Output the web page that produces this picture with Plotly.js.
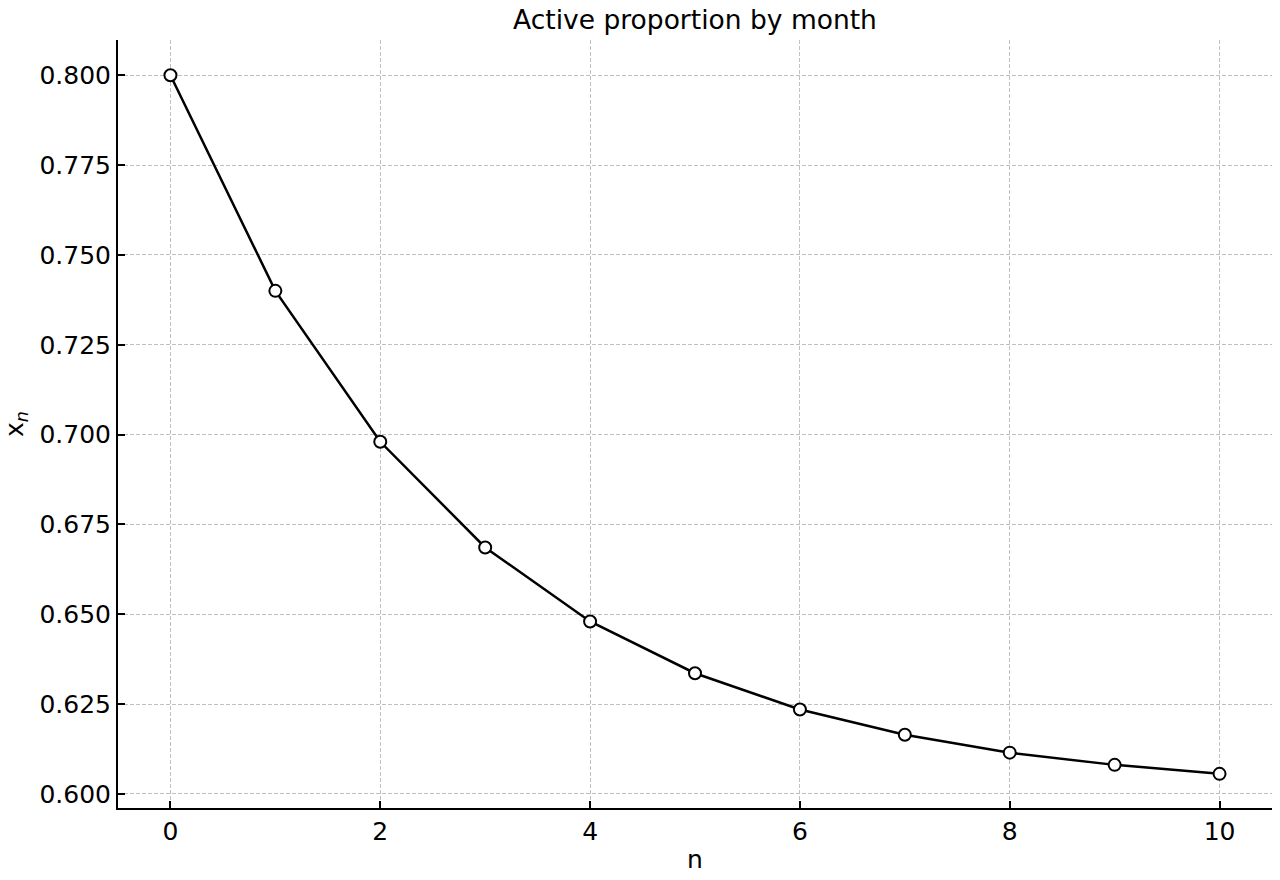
<!DOCTYPE html>
<html>
<head>
<meta charset="utf-8">
<script src="https://cdn.plot.ly/plotly-3.0.1.min.js"></script>
<style>html,body{margin:0;padding:0;background:#fff;}#chart{width:1280px;height:880px;}</style>
</head>
<body>
<div id="chart"></div>
<script>
const months = [0, 1, 2, 3, 4, 5, 6, 7, 8, 9, 10];
const activeProportion = [0.800, 0.740, 0.698, 0.6686, 0.6480, 0.6336, 0.6235, 0.6165, 0.6115, 0.6081, 0.6056];
const titleText = "Active proportion by month";
const xLabel = "n";
const yLabel = "x<sub><i>n</i></sub>";

const font = "DejaVu Sans, sans-serif";
const trace = {
  x: months, y: activeProportion, type: "scatter", mode: "lines+markers",
  line: {color: "#000", width: 2.5},
  marker: {size: 12, color: "#fff", line: {color: "#000", width: 2}},
  hoverinfo: "skip"
};
const layout = {
  width: 1280, height: 880,
  margin: {l: 118, r: 8, t: 40, b: 72},
  paper_bgcolor: "#fff", plot_bgcolor: "#fff",
  font: {family: font, color: "#000", size: 25},
  title: {text: titleText, font: {family: font, size: 26.5, color: "#000"}, x: 0.5, xref: "paper", xanchor: "center", y: 0.978, yref: "container", yanchor: "middle"},
  showlegend: false,
  xaxis: {
    range: [-0.5, 10.5], dtick: 2, tick0: 0,
    showline: true, linecolor: "#000", linewidth: 2,
    ticks: "inside", ticklen: 7, tickwidth: 2, tickcolor: "#000",
    showgrid: true, gridcolor: "#c0c0c0", gridwidth: 1, griddash: "4px,2px",
    zeroline: false, tickfont: {size: 25},
    title: {text: xLabel, font: {size: 25}, standoff: 5}
  },
  yaxis: {
    range: [0.5961, 0.8098], dtick: 0.025, tick0: 0.6, tickformat: ".3f",
    showline: true, linecolor: "#000", linewidth: 2,
    ticks: "inside", ticklen: 7, tickwidth: 2, tickcolor: "#000",
    showgrid: true, gridcolor: "#c0c0c0", gridwidth: 1, griddash: "4px,2px",
    zeroline: false, tickfont: {size: 25},
    title: {text: yLabel, font: {size: 25}, standoff: 10}
  }
};
Plotly.newPlot("chart", [trace], layout, {displayModeBar: false, staticPlot: true});
</script>
</body>
</html>
